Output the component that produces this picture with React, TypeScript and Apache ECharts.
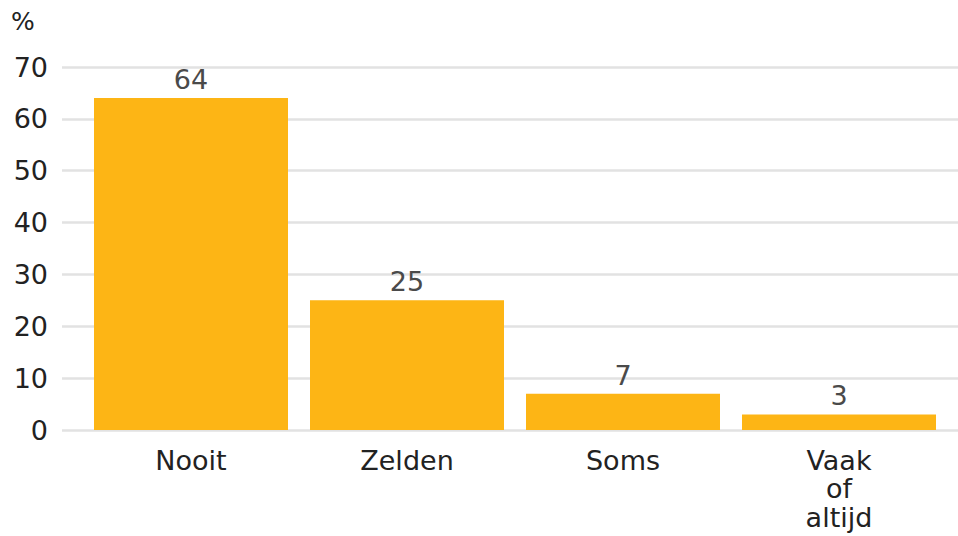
import React, { useEffect, useRef } from "react";
import * as echarts from "echarts";

const categories = ["Nooit", "Zelden", "Soms", "Vaak\nof\naltijd"];
const values = [64, 25, 7, 3];
const yMin = 0;
const yMax = 70;
const yInterval = 10;
const unitLabel = "%";

export default function App() {
  const ref = useRef<HTMLDivElement>(null);
  useEffect(() => {
    if (!ref.current) return;
    const chart = echarts.init(ref.current, undefined, { renderer: "svg" });
    const font = "DejaVu Sans";
    chart.setOption({
      animation: false,
      backgroundColor: "#ffffff",
      textStyle: { fontFamily: font },
      graphic: [
        {
          type: "text",
          left: 11,
          top: 9,
          style: { text: unitLabel, fontSize: 25, fontFamily: font, fill: "#222222" },
        },
      ],
      grid: [
        { left: 62, right: 0, top: 67, bottom: 106 },
        { left: 83, right: 11, top: 67, bottom: 106 },
      ],
      xAxis: [
        { type: "value", gridIndex: 0, show: false, min: 0, max: 1 },
        {
          type: "category",
          gridIndex: 1,
          data: categories,
          axisLine: { show: false },
          axisTick: { show: false },
          axisLabel: {
            fontSize: 27,
            color: "#222222",
            margin: 16,
            lineHeight: 28.5,
            fontFamily: font,
          },
        },
      ],
      yAxis: [
        {
          type: "value",
          gridIndex: 0,
          min: yMin,
          max: yMax,
          interval: yInterval,
          axisLine: { show: false },
          axisTick: { show: false },
          axisLabel: { fontSize: 27, color: "#222222", margin: 14, fontFamily: font },
          splitLine: { lineStyle: { color: "#e2e2e2", width: 2.5 } },
        },
        {
          type: "value",
          gridIndex: 1,
          min: yMin,
          max: yMax,
          interval: yInterval,
          show: false,
          splitLine: { show: false },
        },
      ],
      series: [
        {
          type: "bar",
          xAxisIndex: 1,
          yAxisIndex: 1,
          data: values,
          barWidth: 194,
          itemStyle: { color: "#fdb515" },
          label: {
            show: true,
            position: "top",
            distance: 5,
            fontSize: 27,
            color: "#4a4a4a",
            fontFamily: font,
          },
        },
      ],
    });
    return () => chart.dispose();
  }, []);
  return (
    <div
      ref={ref}
      style={{ position: "fixed", left: 0, top: 0, width: 958, height: 536 }}
    />
  );
}
